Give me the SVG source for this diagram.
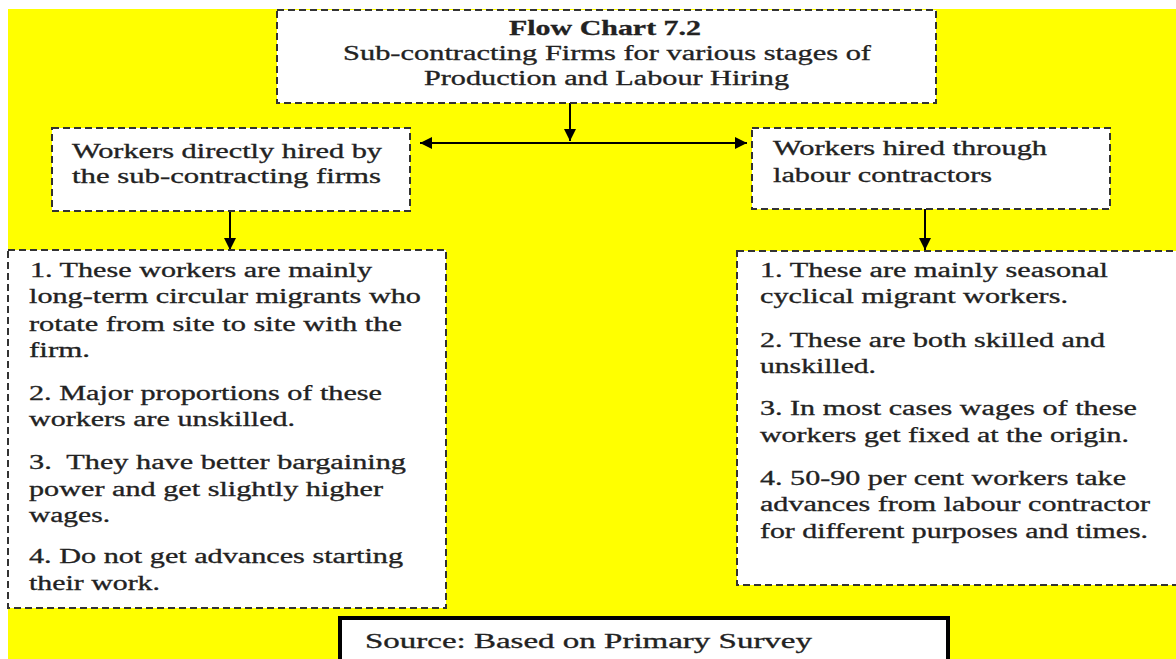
<svg xmlns="http://www.w3.org/2000/svg" width="1176" height="659" viewBox="0 0 1176 659">
<defs>
<style>
.box{fill:#fff;stroke:#333;stroke-width:2;stroke-dasharray:7 4}
.t{font-family:"Liberation Serif","Times New Roman",serif;font-size:20px;fill:#222;stroke:#222;stroke-width:0.3}
.b{font-weight:bold;font-size:21px}
.conn{stroke:#000;stroke-width:2;fill:none}
</style>
<marker id="ah" viewBox="0 0 10 10" refX="10" refY="5" markerWidth="6" markerHeight="6" orient="auto" markerUnits="strokeWidth">
<path d="M0,0 L10,5 L0,10 z" fill="#000"/>
</marker>
</defs>
<rect x="0" y="0" width="1176" height="659" fill="#fff"/>
<rect x="8" y="9" width="1168" height="650" fill="#ffff00"/>

<g id="connectors">
<line class="conn" x1="570" y1="103" x2="570" y2="141" marker-end="url(#ah)"/>
<line class="conn" x1="570" y1="143" x2="420" y2="143" marker-end="url(#ah)"/>
<line class="conn" x1="570" y1="143" x2="747" y2="143" marker-end="url(#ah)"/>
<line class="conn" x1="230" y1="211" x2="230" y2="250" marker-end="url(#ah)"/>
<line class="conn" x1="925" y1="209" x2="925" y2="250" marker-end="url(#ah)"/>
</g>

<g id="title">
<rect class="box" x="277" y="10" width="659" height="93"/>
<text class="t b" x="509" y="35" textLength="192" lengthAdjust="spacingAndGlyphs">Flow Chart 7.2</text>
<text class="t" x="343" y="60" textLength="528" lengthAdjust="spacingAndGlyphs">Sub-contracting Firms for various stages of</text>
<text class="t" x="424" y="85" textLength="365" lengthAdjust="spacingAndGlyphs">Production and Labour Hiring</text>
</g>

<g id="direct">
<rect class="box" x="52" y="128" width="358" height="83"/>
<text class="t" x="72" y="158" textLength="310" lengthAdjust="spacingAndGlyphs">Workers directly hired by</text>
<text class="t" x="72" y="183" textLength="309" lengthAdjust="spacingAndGlyphs">the sub-contracting firms</text>
</g>

<g id="contractors">
<rect class="box" x="752" y="128" width="358" height="81"/>
<text class="t" x="773" y="155" textLength="274" lengthAdjust="spacingAndGlyphs">Workers hired through</text>
<text class="t" x="773" y="182" textLength="219" lengthAdjust="spacingAndGlyphs">labour contractors</text>
</g>

<g id="direct-list">
<rect class="box" x="8" y="250" width="438" height="358"/>
<text class="t" x="30" y="277" textLength="342" lengthAdjust="spacingAndGlyphs">1. These workers are mainly</text>
<text class="t" x="29" y="303" textLength="392" lengthAdjust="spacingAndGlyphs">long-term circular migrants who</text>
<text class="t" x="29" y="331" textLength="373" lengthAdjust="spacingAndGlyphs">rotate from site to site with the</text>
<text class="t" x="29" y="357" textLength="61" lengthAdjust="spacingAndGlyphs">firm.</text>
<text class="t" x="29" y="400" textLength="353" lengthAdjust="spacingAndGlyphs">2. Major proportions of these</text>
<text class="t" x="29" y="426" textLength="266" lengthAdjust="spacingAndGlyphs">workers are unskilled.</text>
<text class="t" x="29" y="469" textLength="377" lengthAdjust="spacingAndGlyphs" xml:space="preserve">3.  They have better bargaining</text>
<text class="t" x="29" y="496" textLength="354" lengthAdjust="spacingAndGlyphs">power and get slightly higher</text>
<text class="t" x="29" y="522" textLength="81" lengthAdjust="spacingAndGlyphs">wages.</text>
<text class="t" x="29" y="563" textLength="374" lengthAdjust="spacingAndGlyphs">4. Do not get advances starting</text>
<text class="t" x="29" y="590" textLength="131" lengthAdjust="spacingAndGlyphs">their work.</text>
</g>

<g id="contractor-list">
<rect class="box" x="737" y="251" width="450" height="334"/>
<text class="t" x="760" y="277" textLength="348" lengthAdjust="spacingAndGlyphs">1. These are mainly seasonal</text>
<text class="t" x="760" y="303" textLength="308" lengthAdjust="spacingAndGlyphs">cyclical migrant workers.</text>
<text class="t" x="760" y="347" textLength="345" lengthAdjust="spacingAndGlyphs">2. These are both skilled and</text>
<text class="t" x="760" y="373" textLength="116" lengthAdjust="spacingAndGlyphs">unskilled.</text>
<text class="t" x="760" y="415" textLength="377" lengthAdjust="spacingAndGlyphs">3. In most cases wages of these</text>
<text class="t" x="760" y="442" textLength="369" lengthAdjust="spacingAndGlyphs">workers get fixed at the origin.</text>
<text class="t" x="760" y="485" textLength="366" lengthAdjust="spacingAndGlyphs">4. 50-90 per cent workers take</text>
<text class="t" x="760" y="511" textLength="390" lengthAdjust="spacingAndGlyphs">advances from labour contractor</text>
<text class="t" x="760" y="538" textLength="388" lengthAdjust="spacingAndGlyphs">for different purposes and times.</text>
</g>

<g id="source">
<rect x="340" y="618" width="608" height="50" fill="#fff" stroke="#000" stroke-width="4"/>
<text class="t" x="365" y="648" textLength="447" lengthAdjust="spacingAndGlyphs">Source: Based on Primary Survey</text>
</g>
</svg>
